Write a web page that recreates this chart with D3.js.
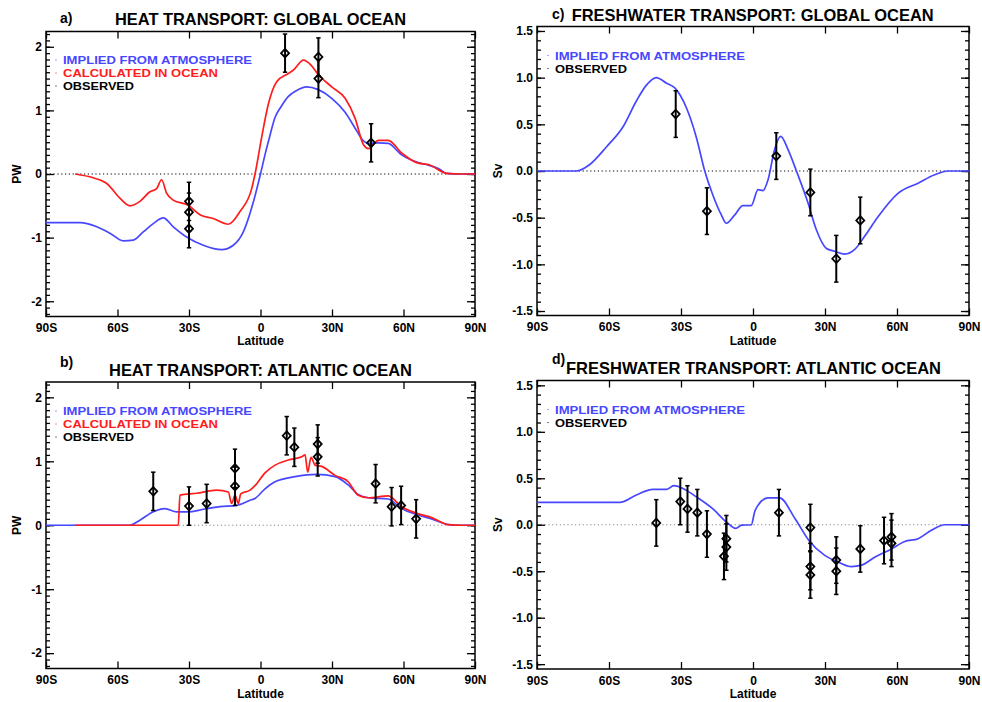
<!DOCTYPE html>
<html><head><meta charset="utf-8">
<script src="https://cdn.jsdelivr.net/npm/d3@7"></script>
<style>
body{margin:0;background:#fff}
svg{display:block}
text{font-family:"Liberation Sans",Arial,Helvetica,sans-serif;font-weight:bold;fill:#000}
</style>
</head><body>
<svg id="chart" width="982" height="702"></svg>
<script>
// ---------- shared axis data ----------
const latTicks = [-90,-60,-30,0,30,60,90];
const latTickLabels = ["90S","60S","30S","0","30N","60N","90N"];
const heatTicks = [-2,-1,0,1,2];
const freshTicks = [-1.5,-1.0,-0.5,0.0,0.5,1.0,1.5];
const panelLetters = ["a)","b)","c)","d)"];
const panelTitles = ["HEAT TRANSPORT: GLOBAL OCEAN","HEAT TRANSPORT: ATLANTIC OCEAN","FRESHWATER TRANSPORT: GLOBAL OCEAN","FRESHWATER TRANSPORT: ATLANTIC OCEAN"];
const legendHeat = ["IMPLIED FROM ATMOSPHERE","CALCULATED IN OCEAN","OBSERVED"];
const legendFresh = ["IMPLIED FROM ATMOSPHERE","OBSERVED"];

// ---------- a) heat transport, global ocean (PW) ----------
const aAtmLat = [-90,-75.7,-68.7,-63.2,-57.6,-53.4,-49.2,-45,-40.8,-36.6,-31,-24,-16.3,-11.4,-7.2,-3,0,2,4,6,8.5,11.7,15,19.4,24,29.9,35.5,39.7,43.2,45.3,49.5,53.6,59.2,66.2,70.4,75,78.1,84,90];
const aAtmPW  = [-0.765,-0.765,-0.83,-0.93,-1.05,-1.04,-0.91,-0.78,-0.69,-0.83,-0.99,-1.12,-1.19,-1.12,-0.91,-0.44,0,0.32,0.61,0.88,1.05,1.22,1.31,1.37,1.33,1.19,0.97,0.72,0.52,0.48,0.49,0.48,0.30,0.18,0.14,0.08,0.01,0,0];
const aOcnLat = [-77.8,-70.2,-64.5,-59,-54.8,-50.6,-46.4,-43.6,-41.5,-39.4,-36.6,-30.3,-25.4,-19.8,-13.5,-8.6,-3.7,-2.3,0.5,3.3,6.8,11.7,14,18,21,24.3,29.9,35.5,39.7,43.2,45.3,49.5,53.6,59.2,66.2,70.4,78.1,84,90];
const aOcnPW  = [0,-0.06,-0.15,-0.38,-0.50,-0.43,-0.28,-0.23,-0.09,-0.30,-0.41,-0.49,-0.64,-0.70,-0.79,-0.59,-0.23,0,0.58,1.10,1.45,1.58,1.64,1.79,1.72,1.56,1.37,1.19,0.875,0.46,0.40,0.53,0.53,0.33,0.17,0.15,0.01,0,0];
const aObsLat = [-30,-30,-30,10.3,24.3,24.3,46.4];
const aObsPW  = [-0.43,-0.60,-0.86,1.90,1.84,1.50,0.49];
const aObsErr = [0.3,0.3,0.3,0.3,0.3,0.3,0.3];

// ---------- b) heat transport, Atlantic ocean (PW) ----------
const bAtmLat = [-90,-54.8,-50.6,-45,-40.1,-35.2,-29.6,-24,-17,-10,-4.4,-2.3,1.9,6.1,14.5,23.6,31.3,36.8,41,45.2,53.6,59.2,66.2,71.8,78.8,84,90];
const bAtmPW  = [0,0,0.08,0.21,0.26,0.21,0.21,0.25,0.29,0.31,0.39,0.42,0.57,0.68,0.76,0.795,0.76,0.63,0.48,0.43,0.41,0.26,0.16,0.10,0.01,0,0];
const bOcnLat = [-77.8,-34.5,-33.8,-26.8,-18.4,-13.5,-12.1,-10.7,-9.3,-8.3,-4.4,-2.3,1.9,6.1,11.7,17.3,18.7,19.8,21.2,22.9,25.7,31.3,36.8,41,45.2,53.6,59.2,66.2,71.8,78.8,84,90];
const bOcnPW  = [0,0,0.47,0.50,0.55,0.52,0.34,0.47,0.34,0.49,0.55,0.62,0.82,0.94,1.02,1.07,1.10,0.83,1.06,0.94,0.92,0.78,0.68,0.47,0.43,0.46,0.29,0.18,0.12,0.01,0,0];
const bObsLat = [-45,-30,-22.6,-10.7,-10.7,11,14.2,24,24,48.3,55,59,65.3];
const bObsPW  = [0.53,0.30,0.34,0.89,0.61,1.40,1.22,1.27,1.07,0.65,0.29,0.31,0.10];
const bObsErr = [0.3,0.3,0.3,0.3,0.3,0.3,0.3,0.3,0.3,0.3,0.3,0.3,0.3];

// ---------- c) freshwater transport, global ocean (Sv) ----------
const cAtmLat = [-90,-73.6,-68,-61,-54,-48.6,-44.4,-40.3,-36,-32.6,-27.8,-23.6,-20.1,-16.7,-13.2,-11.1,-7.6,-4.2,-0.7,2.1,4.2,6.3,9,11.5,14.6,18.1,22.9,26.4,30.6,34,38.2,42.4,46.5,52.1,60.4,68.8,75.7,81.3,90];
const cAtmSv  = [0,0,0.07,0.26,0.48,0.75,0.92,1.0,0.94,0.89,0.68,0.36,0,-0.26,-0.47,-0.56,-0.47,-0.37,-0.37,-0.2,-0.21,-0.09,0.23,0.37,0.23,0,-0.34,-0.63,-0.83,-0.86,-0.89,-0.84,-0.70,-0.49,-0.24,-0.13,-0.04,0,0];
const cObsLat = [-32.2,-19.2,9.7,23.9,34.7,44.7];
const cObsSv  = [0.61,-0.43,0.16,-0.23,-0.94,-0.53];
const cObsErr = [0.25,0.25,0.25,0.25,0.25,0.25];

// ---------- d) freshwater transport, Atlantic ocean (Sv) ----------
const dAtmLat = [-90,-55.5,-48.6,-41.7,-36.1,-33,-29.2,-23.6,-16.7,-11.1,-7.2,-4.8,-0.7,0.7,2.1,6.3,11.1,17.4,23.6,29.9,35.4,41,45.2,50.7,57.7,63.2,68.8,74.3,79.9,90];
const dAtmSv  = [0.24,0.24,0.32,0.38,0.38,0.42,0.39,0.30,0.17,0.03,-0.04,-0.005,0,0.14,0.21,0.29,0.29,0.07,-0.18,-0.33,-0.40,-0.45,-0.435,-0.35,-0.26,-0.18,-0.15,-0.06,0,0];
const dObsLat = [-40.3,-30.3,-27.3,-23.2,-19.2,-12.1,-11.1,-11.1,10.8,23.9,23.9,23.9,34.7,34.7,44.7,54.6,57.7,57.7];
const dObsSv  = [0.02,0.25,0.17,0.13,-0.10,-0.34,-0.15,-0.24,0.13,-0.03,-0.45,-0.54,-0.38,-0.50,-0.26,-0.17,-0.13,-0.20];
const dObsErr = [0.25,0.25,0.25,0.25,0.25,0.25,0.25,0.25,0.25,0.25,0.25,0.25,0.25,0.25,0.25,0.25,0.25,0.25];

// ---------- drawing ----------
const BLUE = "#4747ff", RED = "#ff1c1c";
const zip = (xs, ys) => xs.map((x, i) => [x, ys[i]]);

const panels = [
  {i:0, box:[46,475,31.5,316.5], dom:[-2.24,2.24], ticks:heatTicks, fmt:d=>String(d), ylab:"PW", ylabX:17,
   lines:[[zip(aAtmLat,aAtmPW),BLUE],[zip(aOcnLat,aOcnPW),RED]], obs:[aObsLat,aObsPW,aObsErr],
   legend:legendHeat, legendColors:[BLUE,RED,"#000"], legW:[189,155,71], legX:63, legY:64, zeroCol:"#000",
   letter:[60,23], title:[115,25,291], latY:345},
  {i:1, box:[46,475,382,668.5], dom:[-2.24,2.24], ticks:heatTicks, fmt:d=>String(d), ylab:"PW", ylabX:17,
   lines:[[zip(bAtmLat,bAtmPW),BLUE],[zip(bOcnLat,bOcnPW),RED]], obs:[bObsLat,bObsPW,bObsErr],
   legend:legendHeat, legendColors:[BLUE,RED,"#000"], legW:[189,155,71], legX:63, legY:415, zeroCol:"#888",
   letter:[60,367], title:[109,375.7,303], latY:698},
  {i:2, box:[537,969,26.5,315.5], dom:[-1.548,1.548], ticks:freshTicks, fmt:d=>d.toFixed(1), ylab:"Sv", ylabX:498,
   lines:[[zip(cAtmLat,cAtmSv),BLUE]], obs:[cObsLat,cObsSv,cObsErr],
   legend:legendFresh, legendColors:[BLUE,"#000"], legW:[190,72], legX:555, legY:59.5, zeroCol:"#000",
   letter:[552,19], title:[571.7,20.7,362], latY:345},
  {i:3, box:[537,969,380.5,669], dom:[-1.552,1.552], ticks:freshTicks, fmt:d=>d.toFixed(1), ylab:"Sv", ylabX:498,
   lines:[[zip(dAtmLat,dAtmSv),BLUE]], obs:[dObsLat,dObsSv,dObsErr],
   legend:legendFresh, legendColors:[BLUE,"#000"], legW:[190,72], legX:555, legY:413.5, zeroCol:"#888",
   letter:[552,364], title:[566,374,375], latY:698}
];

const svg = d3.select("#chart");

panels.forEach(p => {
  const [x0,x1,y0,y1] = p.box;
  const x = d3.scaleLinear().domain([-90,90]).range([x0,x1]);
  const y = d3.scaleLinear().domain(p.dom).range([y1,y0]);
  const g = svg.append("g");

  // zero line
  g.append("line").attr("x1",x0).attr("x2",x1).attr("y1",y(0)).attr("y2",y(0))
    .attr("stroke",p.zeroCol).attr("stroke-width",1.2).attr("stroke-dasharray","1.2,2.6");

  // minor ticks
  const lo = Math.ceil(p.dom[0]*10), hi = Math.floor(p.dom[1]*10);
  const minor = d3.range(lo, hi+1).map(v => v/10);
  const styleAxis = sel => { sel.select(".domain").remove(); sel.selectAll("line").attr("stroke","#000").attr("stroke-width",1.3); };
  g.append("g").attr("transform",`translate(${x0},0)`)
    .call(d3.axisLeft(y).tickValues(minor).tickSize(-4).tickFormat("")).call(styleAxis);
  g.append("g").attr("transform",`translate(${x1},0)`)
    .call(d3.axisRight(y).tickValues(minor).tickSize(-4).tickFormat("")).call(styleAxis);
  // major y ticks
  const yl = g.append("g").attr("transform",`translate(${x0},0)`)
    .call(d3.axisLeft(y).tickValues(p.ticks).tickSize(-8).tickPadding(4).tickFormat(p.fmt)).call(styleAxis);
  yl.selectAll("text").attr("font-size",12).style("font-family","'Liberation Sans',Arial,sans-serif").style("font-weight","bold");
  g.append("g").attr("transform",`translate(${x1},0)`)
    .call(d3.axisRight(y).tickValues(p.ticks).tickSize(-8).tickFormat("")).call(styleAxis);
  // x ticks
  const xb = g.append("g").attr("transform",`translate(0,${y1})`)
    .call(d3.axisBottom(x).tickValues(latTicks).tickSize(-7).tickPadding(7).tickFormat((d,i)=>latTickLabels[i])).call(styleAxis);
  xb.selectAll("text").attr("font-size",12).style("font-family","'Liberation Sans',Arial,sans-serif").style("font-weight","bold");
  g.append("g").attr("transform",`translate(0,${y0})`)
    .call(d3.axisTop(x).tickValues(latTicks).tickSize(-7).tickFormat("")).call(styleAxis);

  // frame
  g.append("rect").attr("x",x0).attr("y",y0).attr("width",x1-x0).attr("height",y1-y0)
    .attr("fill","none").attr("stroke","#000").attr("stroke-width",1.5);

  // curves
  const line = d3.line().x(d=>x(d[0])).y(d=>y(d[1])).curve(d3.curveMonotoneX);
  p.lines.forEach(([pts,col]) => {
    g.append("path").datum(pts).attr("d",line).attr("fill","none")
      .attr("stroke",col).attr("stroke-width",1.7).attr("stroke-linejoin","round");
  });

  // observations
  const [oLat,oVal,oErr] = p.obs;
  const obs = oLat.map((la,i)=>({lat:la,v:oVal[i],e:oErr[i]}));
  const og = g.append("g");
  obs.forEach(o => {
    const cx = x(o.lat);
    og.append("line").attr("x1",cx).attr("x2",cx).attr("y1",y(o.v+o.e)).attr("y2",y(o.v-o.e))
      .attr("stroke","#000").attr("stroke-width",2);
    [o.v+o.e,o.v-o.e].forEach(v => og.append("line").attr("x1",cx-2.2).attr("x2",cx+2.2)
      .attr("y1",y(v)).attr("y2",y(v)).attr("stroke","#000").attr("stroke-width",1.5));
  });
  obs.forEach(o => {
    const cx = x(o.lat), cy = y(o.v);
    og.append("path").attr("d",`M${cx},${cy-4.3}L${cx+4},${cy}L${cx},${cy+4.3}L${cx-4},${cy}Z`)
      .attr("fill","none").attr("stroke","#000").attr("stroke-width",1.8);
  });

  // legend
  p.legend.forEach((t,k) => {
    const ly = p.legY + k*13;
    g.append("line").attr("x1",p.legX-8).attr("x2",p.legX-6).attr("y1",ly-4).attr("y2",ly-4)
      .attr("stroke",p.legendColors[k]).attr("stroke-width",1).attr("opacity",0.5);
    g.append("text").attr("x",p.legX).attr("y",ly).attr("font-size",11.2)
      .attr("textLength",p.legW[k]).attr("lengthAdjust","spacingAndGlyphs")
      .style("fill",p.legendColors[k]).text(t);
  });

  // titles
  g.append("text").attr("x",p.letter[0]).attr("y",p.letter[1]).attr("font-size",14).text(panelLetters[p.i]);
  g.append("text").attr("x",p.title[0]).attr("y",p.title[1]).attr("font-size",16.5)
    .attr("textLength",p.title[2]).attr("lengthAdjust","spacingAndGlyphs").text(panelTitles[p.i]);

  // axis labels
  g.append("text").attr("x",(x0+x1)/2).attr("y",p.latY).attr("text-anchor","middle").attr("font-size",12).text("Latitude");
  g.append("text").attr("transform",`translate(${p.ylabX},${(y0+y1)/2}) rotate(-90)`)
    .attr("text-anchor","middle").attr("dy","0.35em").attr("font-size",12).text(p.ylab);
});
</script>
</body></html>
